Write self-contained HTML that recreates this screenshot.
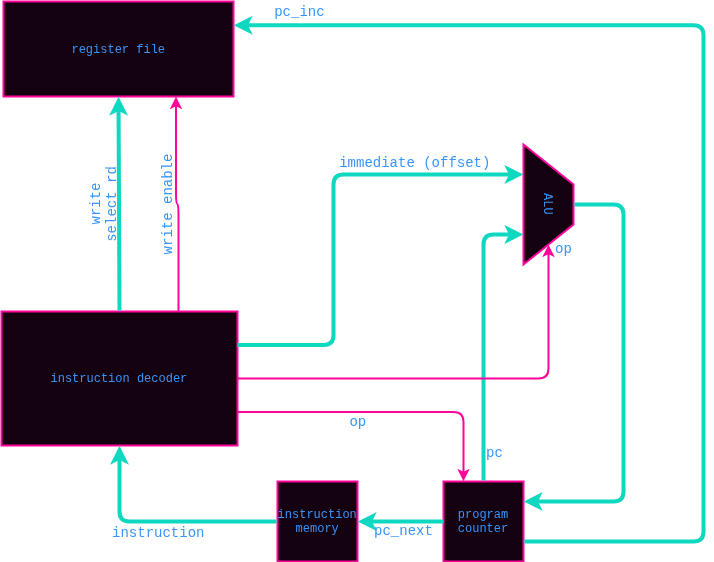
<!DOCTYPE html>
<html><head><meta charset="utf-8"><title>diagram</title>
<style>
html,body{margin:0;padding:0;background:#ffffff;}
body{width:714px;height:562px;overflow:hidden;}
svg{display:block;will-change:transform;}
text{font-family:"Liberation Mono",monospace;fill:#3895fa;}
</style></head><body>
<svg width="714" height="562" viewBox="0 0 714 562">
<rect x="3.5" y="1.5" width="230" height="95" fill="#140211" stroke="#ff059a" stroke-width="2"/>
<rect x="1.5" y="311.5" width="236" height="134" fill="#140211" stroke="#ff059a" stroke-width="2"/>
<rect x="277.5" y="481.5" width="80" height="80" fill="#140211" stroke="#ff059a" stroke-width="2"/>
<rect x="443.5" y="481.5" width="80" height="80" fill="#140211" stroke="#ff059a" stroke-width="2"/>
<path d="M523.5 144.5 L573.5 184.5 L573.5 224.5 L523.5 264.5 Z" fill="#140211" stroke="#ff059a" stroke-width="2" stroke-miterlimit="10"/>
<path d="M119.50 310.50 L118.56 108.72" fill="none" stroke="#0ed8c0" stroke-width="4" stroke-miterlimit="10"/>
<path d="M118.52 101.22 L123.57 111.20 L118.56 108.72 L113.57 111.25 Z" fill="#0ed8c0" stroke="#0ed8c0" stroke-width="4" stroke-miterlimit="10"/>
<path d="M237.50 345.00 L323.50 345.00 Q333.50 345.00 333.50 335.00 L333.50 184.50 Q333.50 174.50 343.50 174.50 L511.28 174.50" fill="none" stroke="#0ed8c0" stroke-width="4" stroke-miterlimit="10"/>
<path d="M518.78 174.50 L508.78 179.50 L511.28 174.50 L508.78 169.50 Z" fill="#0ed8c0" stroke="#0ed8c0" stroke-width="4" stroke-miterlimit="10"/>
<path d="M483.50 480.50 L483.50 244.50 Q483.50 234.50 493.50 234.50 L511.28 234.50" fill="none" stroke="#0ed8c0" stroke-width="4" stroke-miterlimit="10"/>
<path d="M518.78 234.50 L508.78 239.50 L511.28 234.50 L508.78 229.50 Z" fill="#0ed8c0" stroke="#0ed8c0" stroke-width="4" stroke-miterlimit="10"/>
<path d="M574.50 204.50 L613.50 204.50 Q623.50 204.50 623.50 214.50 L623.50 491.50 Q623.50 501.50 613.50 501.50 L535.72 501.50" fill="none" stroke="#0ed8c0" stroke-width="4" stroke-miterlimit="10"/>
<path d="M528.22 501.50 L538.22 496.50 L535.72 501.50 L538.22 506.50 Z" fill="#0ed8c0" stroke="#0ed8c0" stroke-width="4" stroke-miterlimit="10"/>
<path d="M524.50 541.50 L693.50 541.50 Q703.50 541.50 703.50 531.50 L703.50 35.25 Q703.50 25.25 693.50 25.25 L245.72 25.25" fill="none" stroke="#0ed8c0" stroke-width="4" stroke-miterlimit="10"/>
<path d="M238.22 25.25 L248.22 20.25 L245.72 25.25 L248.22 30.25 Z" fill="#0ed8c0" stroke="#0ed8c0" stroke-width="4" stroke-miterlimit="10"/>
<path d="M443.50 521.50 L369.72 521.50" fill="none" stroke="#0ed8c0" stroke-width="4" stroke-miterlimit="10"/>
<path d="M362.22 521.50 L372.22 516.50 L369.72 521.50 L372.22 526.50 Z" fill="#0ed8c0" stroke="#0ed8c0" stroke-width="4" stroke-miterlimit="10"/>
<path d="M276.50 521.50 L129.50 521.50 Q119.50 521.50 119.50 511.50 L119.50 457.72" fill="none" stroke="#0ed8c0" stroke-width="4" stroke-miterlimit="10"/>
<path d="M119.50 450.22 L124.50 460.22 L119.50 457.72 L114.50 460.22 Z" fill="#0ed8c0" stroke="#0ed8c0" stroke-width="4" stroke-miterlimit="10"/>
<path d="M178.50 311.50 L178.50 214.00 Q178.50 204.00 177.25 204.00 L177.25 204.00 Q176.00 204.00 176.00 194.00 L176.00 104.99" fill="none" stroke="#ff059a" stroke-width="2" stroke-miterlimit="10"/>
<path d="M176.00 98.99 L180.00 106.99 L176.00 104.99 L172.00 106.99 Z" fill="#ff059a" stroke="#ff059a" stroke-width="2" stroke-miterlimit="10"/>
<path d="M237.50 378.50 L538.50 378.50 Q548.50 378.50 548.50 368.50 L548.50 252.99" fill="none" stroke="#ff059a" stroke-width="2" stroke-miterlimit="10"/>
<path d="M548.50 246.99 L552.50 254.99 L548.50 252.99 L544.50 254.99 Z" fill="#ff059a" stroke="#ff059a" stroke-width="2" stroke-miterlimit="10"/>
<path d="M237.50 412.00 L453.50 412.00 Q463.50 412.00 463.50 422.00 L463.50 473.01" fill="none" stroke="#ff059a" stroke-width="2" stroke-miterlimit="10"/>
<path d="M463.50 479.01 L459.50 471.01 L463.50 473.01 L467.50 471.01 Z" fill="#ff059a" stroke="#ff059a" stroke-width="2" stroke-miterlimit="10"/>
<text x="118.25" y="53" font-size="12" text-anchor="middle">register file</text>
<text x="118.9" y="382" font-size="12" text-anchor="middle">instruction decoder</text>
<text x="317.2" y="518" font-size="12" text-anchor="middle">instruction</text>
<text x="317.2" y="532" font-size="12" text-anchor="middle">memory</text>
<text x="483" y="518" font-size="12" text-anchor="middle">program</text>
<text x="483" y="532" font-size="12" text-anchor="middle">counter</text>
<text transform="translate(547.5 203.8) rotate(90)" x="0" y="3.192" font-size="12" text-anchor="middle">ALU</text>
<text x="299.4" y="16" font-size="14" text-anchor="middle">pc_inc</text>
<text x="414.8" y="167" font-size="14" text-anchor="middle">immediate (offset)</text>
<text x="563.5" y="253" font-size="14" text-anchor="middle">op</text>
<text x="357.85" y="426" font-size="14" text-anchor="middle">op</text>
<text x="494.5" y="457" font-size="14" text-anchor="middle">pc</text>
<text x="403.45" y="535" font-size="14" text-anchor="middle">pc_next</text>
<text x="158.25" y="537" font-size="14" text-anchor="middle">instruction</text>
<text transform="translate(96 203.5) rotate(-90)" x="0" y="3.724" font-size="14" text-anchor="middle">write</text>
<text transform="translate(112 204) rotate(-90)" x="0" y="3.724" font-size="14" text-anchor="middle">select rd</text>
<text transform="translate(168 204) rotate(-90)" x="0" y="3.724" font-size="14" text-anchor="middle">write enable</text>
</svg>
</body></html>
